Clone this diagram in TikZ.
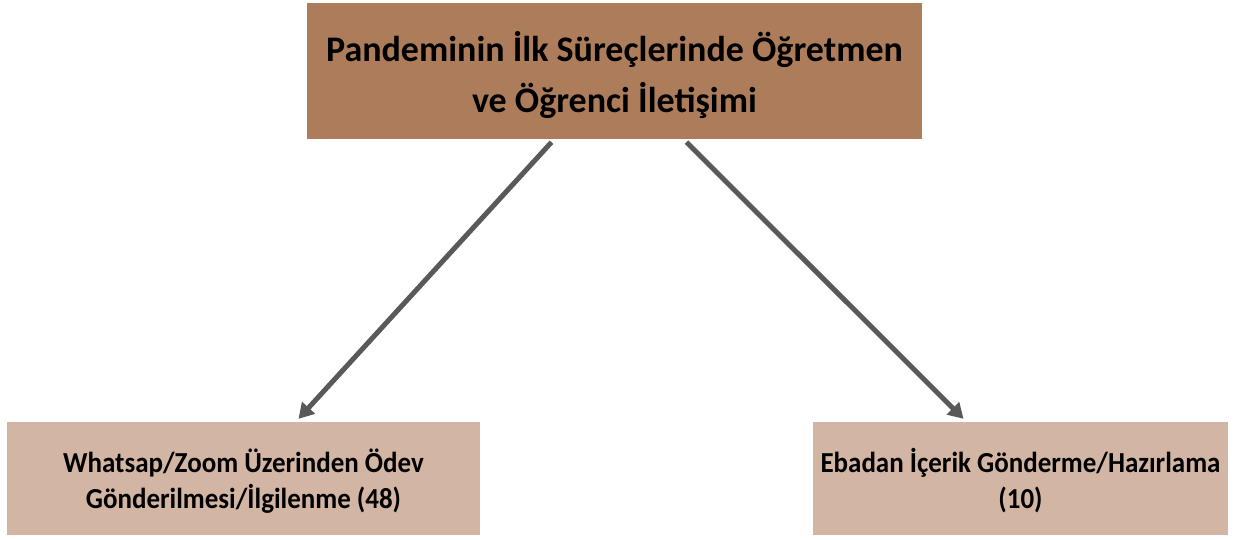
\documentclass[tikz,border=0pt]{standalone}
\usepackage{fontspec}
\setmainfont{Carlito}
\newfontfamily\leaffont[FakeStretch=0.93]{Carlito}
\usetikzlibrary{arrows.meta, positioning, calc}

\definecolor{topbrown}{HTML}{AD7D5B}
\definecolor{lowtan}{HTML}{D3B5A3}
\definecolor{linkgray}{HTML}{595959}

\tikzset{
  headbox/.style={fill=topbrown, minimum width=615pt, minimum height=136pt,
    text height=109pt, text depth=27pt,
    align=center, inner sep=0pt, font=\bfseries\fontsize{36}{51}\selectfont},
  leafbox/.style={fill=lowtan, minimum width=473pt, minimum height=113pt,
    text height=86pt, text depth=27pt,
    align=center, inner sep=0pt, font=\leaffont\bfseries\fontsize{29}{36}\selectfont},
  link/.style={draw=linkgray, line width=5pt,
    -{Triangle[length=15pt,width=17pt]}}
}

\begin{document}
\begin{tikzpicture}[x=1pt,y=-1pt]
\useasboundingbox (0,0) rectangle (1236,539);
\node[headbox] (head) at (614.5,71) {Pandeminin İlk Süreçlerinde Öğretmen\\ve Öğrenci İletişimi};
\node[leafbox] (whats) at (243.5,478.5) {Whatsap/Zoom Üzerinden Ödev\\Gönderilmesi/İlgilenme (48)};
\node[leafbox, minimum width=415pt] (eba) at (1020.5,478.5) {Ebadan İçerik Gönderme/Hazırlama\\(10)};
% connectors
\draw[link] ([xshift=-63pt,yshift=-3pt]head.south) -- ([xshift=55pt,yshift=3pt]whats.north);
\draw[link] ([xshift=72pt,yshift=-3pt]head.south) -- ([xshift=-57pt,yshift=3pt]eba.north);
\end{tikzpicture}
\end{document}
